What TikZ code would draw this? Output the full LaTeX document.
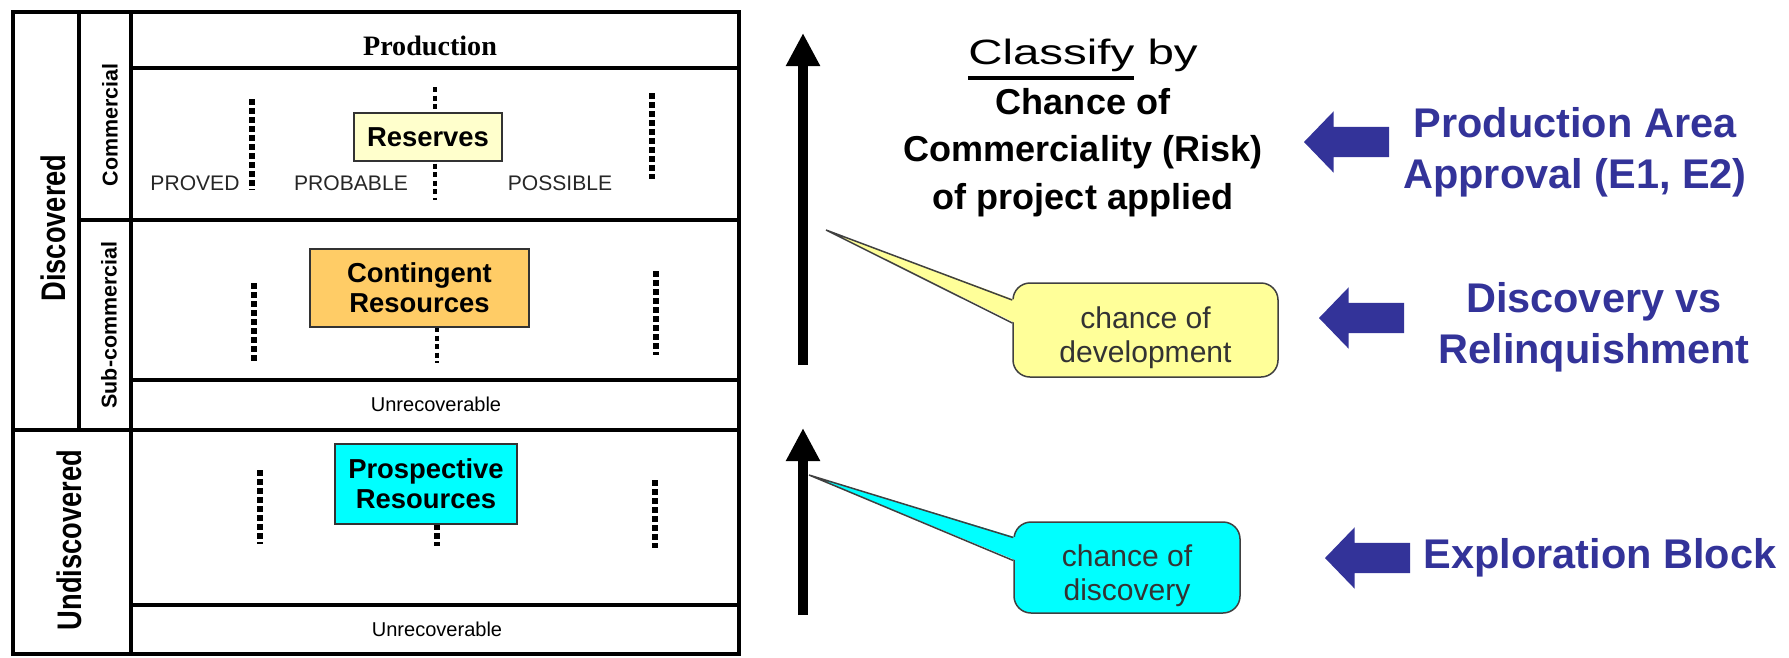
\documentclass[tikz,border=0pt]{standalone}
\usepackage{fontspec}
\setmainfont{Liberation Sans}
\newfontfamily\headfont{Liberation Serif}
\newfontfamily\narrowfont[FakeStretch=0.8]{Liberation Sans}
\newfontfamily\widefont[FakeStretch=1.35]{Liberation Sans}
\usetikzlibrary{arrows.meta}
\usetikzlibrary{shapes.arrows}

\definecolor{resyellow}{HTML}{FFFFCC}
\definecolor{contorange}{HTML}{FFCC66}
\definecolor{prospcyan}{HTML}{00FFFF}
\definecolor{devyellow}{HTML}{FFFF99}
\definecolor{approvalblue}{HTML}{333399}

% thick underline for the title word
\newcommand{\thickul}[1]{\setbox0\hbox{#1}\rlap{\rule[-4.3pt]{\wd0}{1.1pt}}\box0\relax}

\tikzset{
  outer line/.style={line width=0.4mm},
  grid line/.style={line width=0.33mm},
  splitline/.style={line width=0.65mm, dash pattern=on 0.6mm off 0.3mm},
  thin splitline/.style={line width=0.4mm, dash pattern=on 0.5mm off 0.35mm},
  classbox/.style={draw=black!80, line width=0.15mm, inner sep=0pt, align=center,
    font=\bfseries\fontsize{7.8}{8.6}\selectfont},
  sidelabel/.style={rotate=90, inner sep=0pt, font=\bfseries\fontsize{6.1}{7}\selectfont},
  statuslabel/.style={rotate=90, inner sep=0pt, font=\narrowfont\bfseries\fontsize{9.7}{11}\selectfont},
  catlabel/.style={anchor=base, inner sep=0pt, text=black!85, font=\fontsize{6}{7}\selectfont},
  unrec/.style={anchor=base, inner sep=0pt, font=\fontsize{5.7}{7}\selectfont},
  bigarrow/.style={line width=1mm, -{Triangle[width=3.2mm,length=3.3mm]}},
  callout/.style={draw=black!75, line width=0.15mm, rounded corners=1.7mm, inner sep=0pt},
  calltext/.style={align=center, inner sep=0pt, text=black!80, font=\fontsize{8.55}{9.7}\selectfont},
  callout edge/.style={draw=black!75, line width=0.15mm},
  blockarrow/.style={single arrow, shape border rotate=180, fill=approvalblue,
    inner xsep=0pt, inner ysep=1.45mm,
    minimum height=8.5mm, minimum width=6mm, single arrow head extend=1.55mm,
    single arrow tip angle=92, anchor=tip},
  gatelabel/.style={text=approvalblue, inner sep=0pt, align=center,
    font=\bfseries\fontsize{11.8}{14.5}\selectfont}
}

\begin{document}
\begin{tikzpicture}[x=0.1mm, y=-0.1mm]
\useasboundingbox (0,0) rectangle (1789,657);

% the table
\draw[outer line] (13,12) rectangle (739,654);
\draw[grid line] (79,12) -- (79,430);
\draw[grid line] (131,12) -- (131,654);
\draw[grid line] (131,68) -- (739,68);
\draw[grid line] (79,220) -- (739,220);
\draw[grid line] (131,380) -- (739,380);
\draw[outer line] (13,430) -- (739,430);
\draw[outer line] (131,605) -- (739,605);

\node[statuslabel] (discovered) at (53,228) {Discovered};
\node[statuslabel] (undiscovered) at (69,540) {Undiscovered};
\node[sidelabel] (commercial) at (110,125) {Commercial};
\node[sidelabel] (subcommercial) at (109,325) {Sub-commercial};

\node[anchor=base, inner sep=0pt, font=\headfont\bfseries\fontsize{8}{9.6}\selectfont] (production) at (430,55) {Production};

% split lines
\draw[splitline] (252,99) -- (252,190);
\draw[thin splitline] (435,87) -- (435,200);
\draw[splitline] (652,93) -- (652,179);

\draw[splitline] (254,283) -- (254,361);
\draw[thin splitline] (437,327) -- (437,363);
\draw[splitline] (656,271) -- (656,355);

\draw[splitline] (260,470) -- (260,544);
\draw[splitline] (437,524) -- (437,546);
\draw[splitline] (655,480) -- (655,548);

\node[catlabel] (proved) at (195,190) {PROVED};
\node[catlabel] (probable) at (351,190) {PROBABLE};
\node[catlabel] (possible) at (560,190) {POSSIBLE};

\node[classbox, fill=resyellow, minimum width=14.8mm, minimum height=4.8mm] (reserves) at (428,137) {Reserves};
\node[classbox, fill=contorange, minimum width=21.9mm, minimum height=7.8mm] (contingent) at (419.5,288) {Contingent\\Resources};
\node[classbox, fill=prospcyan, minimum width=18.2mm, minimum height=8mm] (prospective) at (426,484) {Prospective\\Resources};

\node[unrec] (unrecsub) at (436,411) {Unrecoverable};
\node[unrec] (unrecundisc) at (437,636) {Unrecoverable};

% risk arrows
\coordinate (devfoot) at (803,365);
\coordinate (devhead) at (803,33);
\draw[bigarrow] (devfoot) -- (devhead);

\coordinate (discfoot) at (803,615);
\coordinate (dischead) at (803,428);
\draw[bigarrow] (discfoot) -- (dischead);

\node[align=center, inner sep=0pt, font=\bfseries\fontsize{10.25}{13.4}\selectfont] (classify) at (1083,128)
  {{\widefont\mdseries\fontsize{10}{13.4}\selectfont\thickul{Classify} by}\\[0.8pt]
   Chance of\\Commerciality (Risk)\\of project applied};

% callouts
\node[callout, fill=devyellow, minimum width=26.5mm, minimum height=9.4mm] (devnote) at (1145.5,330) {};
\coordinate (devtip) at (826,230);
\fill[devyellow] ([shift={(3,-30)}]devnote.west) -- (devtip) -- ([shift={(3,-7)}]devnote.west) -- cycle;
\draw[callout edge] ([shift={(0,-30)}]devnote.west) -- (devtip) -- ([shift={(0,-7)}]devnote.west);
\node[calltext] (devtext) at ([shift={(0,8)}]devnote.center) {chance of\\development};

\node[callout, fill=prospcyan, minimum width=22.6mm, minimum height=9.1mm] (discnote) at (1127,567.5) {};
\coordinate (disctip) at (809,475);
\fill[prospcyan] ([shift={(3,-30)}]discnote.west) -- (disctip) -- ([shift={(3,-7)}]discnote.west) -- cycle;
\draw[callout edge] ([shift={(0,-30)}]discnote.west) -- (disctip) -- ([shift={(0,-7)}]discnote.west);
\node[calltext] (disctext) at ([shift={(0,8)}]discnote.center) {chance of\\discovery};

% right one
\node[blockarrow] (approvalarrow) at (1303,142) {};
\node[gatelabel] (approval) at (1575,152) {Production Area\\Approval (E1, E2)};

\node[blockarrow] (relinqarrow) at (1318,318) {};
\node[gatelabel] (relinquish) at (1594,327) {Discovery vs\\Relinquishment};

\node[blockarrow] (exparrow) at (1324,558) {};
\node[gatelabel, anchor=base] (expblock) at (1600,568) {Exploration Block};

\end{tikzpicture}
\end{document}
